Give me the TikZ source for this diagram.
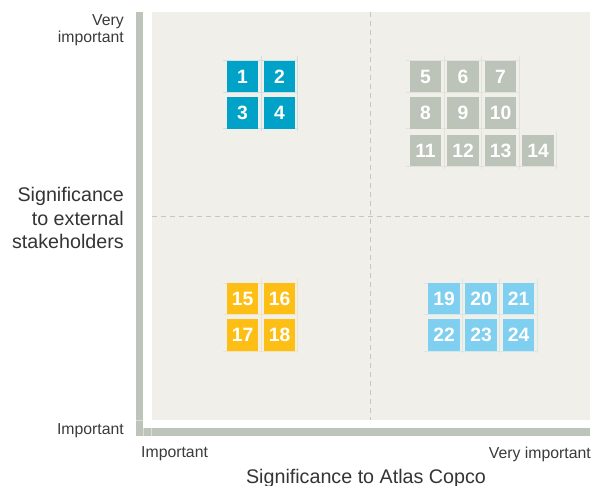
\documentclass[tikz,border=0pt]{standalone}
\usepackage{fontspec}
\setmainfont{Liberation Sans}
\definecolor{cblue}{HTML}{00A3C7}
\definecolor{cgray}{HTML}{BCC3B9}
\definecolor{cyellow}{HTML}{FDBF16}
\definecolor{clblue}{HTML}{7FCFF1}
\definecolor{cpanel}{HTML}{F0EFE9}
\definecolor{cbar}{HTML}{BDC4BA}
\definecolor{cdash}{HTML}{C6C6BE}
\definecolor{ctext}{HTML}{3A3A3A}
\begin{document}
\begin{tikzpicture}[x=1pt,y=-1pt,
  cell/.style={minimum width=31.5pt,minimum height=31.5pt,inner sep=0pt,text=white,
    font=\bfseries\fontsize{19.3}{19.3}\selectfont},
  small/.style={inner sep=0pt,text=ctext,font=\fontsize{15.8}{18}\selectfont},
  big/.style={inner sep=0pt,text=ctext!90!black,font=\fontsize{19.7}{22}\selectfont},
  dashline/.style={cdash,line width=1pt,dash pattern=on 5pt off 4pt},
  gridline/.style={line width=0.5pt}]
\useasboundingbox (0,0) rectangle (593,486);
% panel
\fill[cpanel] (152,12) rectangle (590,420);
% axis bars
\fill[cbar] (136,12) rectangle (143.3,436);
\fill[cbar] (136,428.3) rectangle (590,436);
\draw[white,opacity=0.45,line width=0.6pt] (143.3,428.3) -- (143.3,436)
  (151,428.3) -- (151,436) (136,420.5) -- (143.3,420.5);
% dashed quadrant lines
\draw[dashline] (152,216) -- (590,216);
\draw[dashline] (370.7,12) -- (370.7,420);
% faint cell grids
\draw[gridline,cblue!18!cpanel]
  (223,60.75) -- (297,60.75) (223,92.25) -- (297,92.25) (223,128.75) -- (297,128.75)
  (261.25,56) -- (261.25,131) (297,56) -- (297,131);
\draw[gridline,cgray!30!cpanel]
  (406,60.75) -- (519,60.75) (406,92.25) -- (519,92.25) (406,128.75) -- (519,128.75)
  (406,166.25) -- (557,166.25)
  (444,56) -- (444,169) (481.7,56) -- (481.7,169) (519,56) -- (519,169) (556,131) -- (556,169);
\draw[gridline,cyellow!22!cpanel]
  (223,282.75) -- (297,282.75) (223,314.25) -- (297,314.25) (223,350.75) -- (297,350.75)
  (261.25,278) -- (261.25,353) (297,278) -- (297,353);
\draw[gridline,clblue!25!cpanel]
  (424,282.75) -- (537,282.75) (424,314.25) -- (537,314.25) (424,350.75) -- (537,350.75)
  (462,278) -- (462,353) (499.5,278) -- (499.5,353) (537,278) -- (537,353);
% boxes
\foreach \n/\x/\y in {1/242.5/76.5,2/279.5/76.5,3/242.5/113,4/279.5/113}
  \node[cell,fill=cblue] (b\n) at (\x,\y) {\n};
\foreach \n/\x/\y in {5/425.5/76.5,6/463/76.5,7/500.5/76.5,
  8/425.5/113,9/463/113,10/500.5/113,
  11/425.5/150.5,12/463/150.5,13/500.5/150.5,14/538/150.5}
  \node[cell,fill=cgray] (b\n) at (\x,\y) {\n};
\foreach \n/\x/\y in {15/242.5/298.5,16/279.5/298.5,17/242.5/335,18/279.5/335}
  \node[cell,fill=cyellow] (b\n) at (\x,\y) {\n};
\foreach \n/\x/\y in {19/444/298.5,20/481/298.5,21/518.5/298.5,
  22/444/335,23/481/335,24/518.5/335}
  \node[cell,fill=clblue] (b\n) at (\x,\y) {\n};
% labels
\node[small,anchor=base east] (vy1) at (124,26) {Very};
\node[small,anchor=base east] (vy2) at (124,42.5) {important};
\node[big,anchor=base east] (sy1) at (124,201.7) {Significance};
\node[big,anchor=base east] (sy2) at (124,225) {to external};
\node[big,anchor=base east] (sy3) at (124,248.5) {stakeholders};
\node[small,anchor=base east] (iy) at (124,434) {Important};
\node[small,anchor=base west] (ix) at (141,457) {Important};
\node[small,anchor=base east] (vx) at (591,458) {Very important};
\node[big,anchor=base] (sx) at (366,483.3) {Significance to Atlas Copco};
\end{tikzpicture}
\end{document}
